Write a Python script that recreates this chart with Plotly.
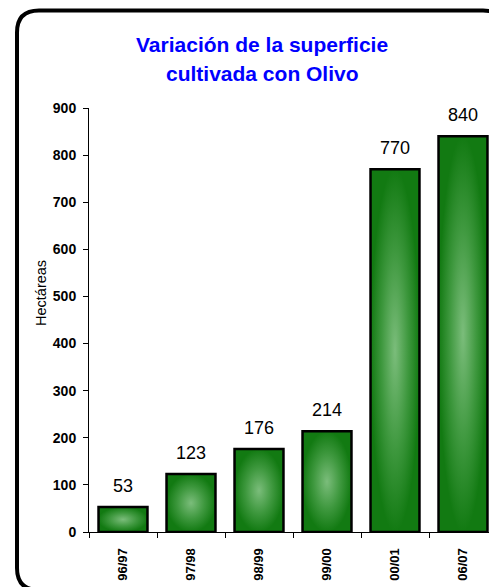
import plotly.graph_objects as go

categories = ["96/97", "97/98", "98/99", "99/00", "00/01", "06/07"]
values = [53, 123, 176, 214, 770, 840]
y_ticks = [0, 100, 200, 300, 400, 500, 600, 700, 800, 900]

# the page body has an 8px margin, so the figure is drawn 8px in from the window corner
OFF = 8
W, H = 497 - OFF, 587 - OFF
L, R, T, B = 89 - OFF, 0, 108 - OFF, 587 - 532
PW, PH = W - L - R, H - T - B

def px(x):  # window pixel -> paper x
    return (x - OFF - L) / PW

def py(y):  # window pixel -> paper y
    return (H - B - (y - OFF)) / PH

BAR_W = 0.72
FONT = "Liberation Sans, Arial, sans-serif"

fig = go.Figure()

for i, v in enumerate(values):
    x0, x1 = i - BAR_W / 2, i + BAR_W / 2
    fig.add_trace(go.Scatter(
        x=[x0, x1, x1, x0, x0], y=[0, 0, v, v, 0],
        mode="lines", fill="toself",
        fillgradient=dict(type="radial",
                          colorscale=[[0, "#7bbd7b"], [0.55, "#3e983e"], [1, "#127a12"]]),
        line=dict(color="black", width=2.5),
        hoverinfo="skip", showlegend=False,
    ))

for i, v in enumerate(values):
    fig.add_annotation(x=i, y=v, text=str(v), showarrow=False,
                       xanchor="center", yanchor="bottom", yshift=9,
                       font=dict(family=FONT, size=18, color="black"))

# rounded frame
x0f, x1f, y0f, y1f, r = 17, 505, 10.5, 590, 22
path = (f"M {px(x0f)},{py(y0f + r)} "
        f"Q {px(x0f)},{py(y0f)} {px(x0f + r)},{py(y0f)} "
        f"L {px(x1f - r)},{py(y0f)} "
        f"Q {px(x1f)},{py(y0f)} {px(x1f)},{py(y0f + r)} "
        f"L {px(x1f)},{py(y1f - r)} "
        f"Q {px(x1f)},{py(y1f)} {px(x1f - r)},{py(y1f)} "
        f"L {px(x0f + r)},{py(y1f)} "
        f"Q {px(x0f)},{py(y1f)} {px(x0f)},{py(y1f - r)} Z")
fig.add_shape(type="path", path=path, xref="paper", yref="paper",
              line=dict(color="black", width=4), layer="above")

# title
fig.add_annotation(x=px(262), y=py(45), xref="paper", yref="paper",
                   xanchor="center", yanchor="middle",
                   text="<b>Variación de la superficie</b>", showarrow=False,
                   font=dict(family=FONT, size=21, color="#0000ff"))
fig.add_annotation(x=px(262), y=py(73), xref="paper", yref="paper",
                   xanchor="center", yanchor="middle",
                   text="<b>cultivada con Olivo</b>", showarrow=False,
                   font=dict(family=FONT, size=21, color="#0000ff"))

# y title
fig.add_annotation(x=px(41), y=py(293), xref="paper", yref="paper",
                   xanchor="center", yanchor="middle",
                   text="Hectáreas", textangle=-90, showarrow=False,
                   font=dict(family=FONT, size=14.5, color="black"))

fig.update_layout(
    width=W, height=H,
    margin=dict(l=L, r=R, t=T, b=B, pad=0),
    paper_bgcolor="white", plot_bgcolor="white",
    showlegend=False,
    xaxis=dict(range=[-0.5, 5.5], tickmode="array",
               tickvals=list(range(len(categories))), ticktext=categories,
               tickangle=-90, ticks="outside", ticklen=10, tickcolor="rgba(0,0,0,0)",
               showline=True, linecolor="black", linewidth=1,
               showgrid=False, zeroline=False, fixedrange=True,
               tickfont=dict(family=FONT, size=13, color="black", weight="bold"),
               minor=dict(tick0=-0.5, dtick=1, ticks="outside", ticklen=5,
                          tickcolor="black", showgrid=False)),
    yaxis=dict(range=[0, 900], tickmode="array", tickvals=y_ticks,
               ticks="outside", ticklen=5, tickcolor="black",
               showline=True, linecolor="black", linewidth=1,
               showgrid=False, zeroline=False, fixedrange=True,
               ticklabelstandoff=4,
               tickfont=dict(family=FONT, size=14, color="black", weight="bold")),
)

fig.write_html("out.html")
